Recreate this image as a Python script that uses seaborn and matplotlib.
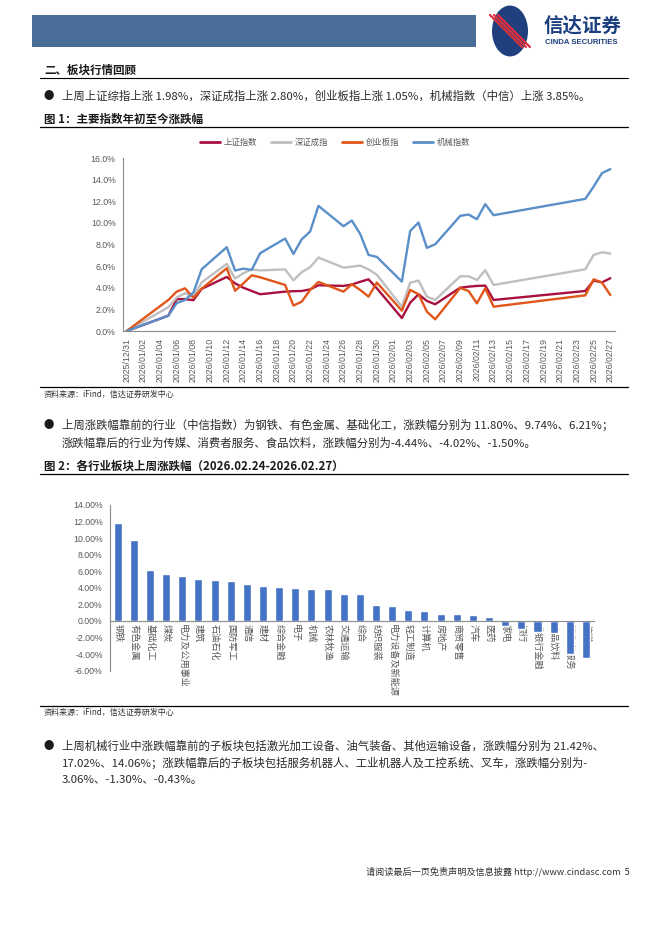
import matplotlib
matplotlib.use("Agg")
import matplotlib.pyplot as plt
import seaborn as sns
import pandas as pd
import numpy as np
from matplotlib.patches import Rectangle, Circle
from matplotlib.lines import Line2D
import matplotlib.dates as mdates
import matplotlib.ticker as mticker

# ---------------- data ----------------
trade_dates = ["2025-12-31",
               "2026-01-05", "2026-01-06", "2026-01-07", "2026-01-08", "2026-01-09",
               "2026-01-12", "2026-01-13", "2026-01-14", "2026-01-15", "2026-01-16",
               "2026-01-19", "2026-01-20", "2026-01-21", "2026-01-22", "2026-01-23",
               "2026-01-26", "2026-01-27", "2026-01-28", "2026-01-29", "2026-01-30",
               "2026-02-02", "2026-02-03", "2026-02-04", "2026-02-05", "2026-02-06",
               "2026-02-09", "2026-02-10", "2026-02-11", "2026-02-12", "2026-02-13",
               "2026-02-24", "2026-02-25", "2026-02-26", "2026-02-27"]
sh_index = [0, 1.42, 2.95, 2.95, 2.85, 3.90, 5.00, 4.41, 4.00, 3.70, 3.40,
            3.64, 3.68, 3.70, 3.85, 4.23, 4.17, 4.30, 4.55, 4.78, 3.95,
            1.20, 2.62, 3.40, 2.78, 2.47, 4.01, 4.10, 4.17, 4.20, 2.87,
            3.70, 4.66, 4.50, 4.88]
sz_index = [0, 2.20, 3.10, 3.50, 3.15, 4.50, 6.20, 4.85, 5.35, 5.70, 5.60,
            5.70, 4.68, 5.45, 5.90, 6.79, 5.86, 5.95, 6.05, 5.70, 5.20,
            2.25, 4.47, 4.66, 3.18, 2.87, 5.06, 5.06, 4.72, 5.62, 4.26,
            5.71, 7.04, 7.28, 7.16]
cyb_index = [0, 2.87, 3.64, 3.95, 3.07, 3.92, 5.80, 3.72, 4.41, 5.15, 4.97,
             4.26, 2.35, 2.72, 3.80, 4.54, 3.64, 4.32, 3.80, 3.18, 4.48,
             1.88, 3.80, 3.40, 1.79, 1.08, 3.98, 3.70, 2.56, 3.95, 2.25,
             3.30, 4.78, 4.48, 3.33]
jx_index = [0, 1.42, 2.58, 2.87, 3.55, 5.71, 7.75, 5.59, 5.77, 5.65, 7.19,
            8.55, 7.13, 8.49, 9.20, 11.57, 9.69, 10.22, 8.98, 7.04, 6.85,
            4.57, 9.26, 10.03, 7.69, 8.02, 10.65, 10.77, 10.34, 11.73, 10.71,
            12.22, 13.36, 14.60, 14.97]
series_names = ["上证指数", "深证成指", "创业板指", "机械指数"]
series_colors = ["#A8113E", "#BFBFBF", "#E0561B", "#5B8FC9"]

industries = ["钢铁", "有色金属", "基础化工", "煤炭", "电力及公用事业", "建筑", "石油石化",
              "国防军工", "通信", "建材", "综合金融", "电子", "机械", "农林牧渔", "交通运输",
              "综合", "纺织服装", "电力设备及新能源", "轻工制造", "计算机", "房地产", "商贸零售",
              "汽车", "医药", "家电", "银行", "非银行金融", "食品饮料", "消费者服务", "传媒"]
weekly_change = [11.80, 9.74, 6.21, 5.72, 5.47, 5.12, 4.99, 4.88, 4.52, 4.27, 4.15,
                 4.03, 3.85, 3.82, 3.30, 3.22, 1.97, 1.77, 1.27, 1.23, 0.88, 0.86,
                 0.68, 0.44, -0.56, -1.00, -1.37, -1.50, -4.02, -4.44]

# ---------------- page ----------------
sns.set_theme(style="white")
plt.rcParams["font.family"] = ["Noto Sans CJK SC", "DejaVu Sans"]
plt.rcParams["axes.unicode_minus"] = False

W, H = 662, 936
fig = plt.figure(figsize=(W / 100, H / 100), dpi=100)
fig.patch.set_facecolor("white")


def X(x):
    return x / W


def Y(y):
    return 1 - y / H


def ptext(x, y, s, size=8.3, weight="normal", color="#1a1a1a", **kw):
    fig.text(X(x), Y(y), s, fontsize=size, fontweight=weight, color=color,
             va="center", **kw)


def hline(x0, x1, y, lw=0.9, color="black"):
    fig.add_artist(Line2D([X(x0), X(x1)], [Y(y), Y(y)], transform=fig.transFigure,
                          lw=lw, color=color))


# header
fig.add_artist(Rectangle((X(32), Y(47)), X(476) - X(32), (47 - 15) / H,
                         transform=fig.transFigure, color="#4B6E98", lw=0))
fig.add_artist(Circle((X(510), Y(31)), 18 / W, transform=fig.transFigure,
                      color="#1F3F7F", lw=0))
for dx in (-4, 0, 4):
    fig.add_artist(Line2D([X(494 + dx), X(526 + dx)], [Y(15), Y(47)],
                          transform=fig.transFigure, lw=1.6, color="#E03040"))
ptext(544, 26, "信达证券", size=14, weight="bold", color="#1B3F7F")
ptext(545, 42, "CINDA SECURITIES", size=5.6, weight="bold", color="#1B3F7F",
      family=["Liberation Sans", "DejaVu Sans"])

# section heading
ptext(44, 70, "二、板块行情回顾", size=8.3, weight="bold")
hline(40, 628, 78, lw=0.8)
ptext(44, 96, "●", size=7.5)
ptext(62, 96, "上周上证综指上涨 1.98%，深证成指上涨 2.80%，创业板指上涨 1.05%，机械指数（中信）上涨 3.85%。",
      size=8.2, color="#2a2a2a")
ptext(44, 119, "图 1：主要指数年初至今涨跌幅", size=8.3, weight="bold")
hline(40, 628, 127, lw=0.9)

# ---------------- chart 1 ----------------
df1 = pd.DataFrame({
    "date": pd.to_datetime(trade_dates * 4),
    "value": sh_index + sz_index + cyb_index + jx_index,
    "series": np.repeat(series_names, len(trade_dates)),
})
ax1 = fig.add_axes([X(122.5), Y(331), X(614.5) - X(122.5), (331 - 158) / H])
sns.lineplot(data=df1, x="date", y="value", hue="series", hue_order=series_names,
             palette=dict(zip(series_names, series_colors)), linewidth=1.7,
             legend=False, ax=ax1)
ax1.set_xlim(pd.Timestamp("2025-12-30 12:00"), pd.Timestamp("2026-02-27 12:00"))
ax1.set_ylim(0, 16)
ax1.set_yticks(np.arange(0, 17, 2))
ax1.yaxis.set_major_formatter(mticker.FuncFormatter(lambda v, p: f"{v:.1f}%"))
ax1.set_xticks(pd.date_range("2025-12-31", "2026-02-27", freq="2D"))
ax1.xaxis.set_major_formatter(mdates.DateFormatter("%Y/%m/%d"))
ax1.tick_params(axis="x", rotation=90, labelsize=6.3, colors="#595959",
                length=3, width=0.6, color="#8C8C8C", pad=2)
ax1.tick_params(axis="y", labelsize=6.3, colors="#595959", length=3, width=0.6,
                color="#8C8C8C", pad=2)
for lab in ax1.get_xticklabels() + ax1.get_yticklabels():
    lab.set_fontfamily(["Liberation Sans", "DejaVu Sans"])
ax1.set_xlabel("")
ax1.set_ylabel("")
for s in ("top", "right"):
    ax1.spines[s].set_visible(False)
for s in ("left", "bottom"):
    ax1.spines[s].set_color("#8C8C8C")
    ax1.spines[s].set_linewidth(0.8)
ax1.set_facecolor("white")

handles = [Line2D([], [], color=c, lw=2) for c in series_colors]
fig.legend(handles, series_names, loc="center", bbox_to_anchor=(X(335), Y(142)),
           ncol=4, frameon=False, fontsize=6, handlelength=2.4, columnspacing=1.6,
           handletextpad=0.5, labelcolor="#595959")

hline(40, 628, 387, lw=0.9)
ptext(44, 394, "资料来源：iFind，信达证券研发中心", size=5.8, color="#333333")

# bullet 2
ptext(44, 425, "●", size=7.5)
ptext(62, 425, "上周涨跌幅靠前的行业（中信指数）为钢铁、有色金属、基础化工，涨跌幅分别为 11.80%、9.74%、6.21%；",
      size=8.2, color="#2a2a2a")
ptext(62, 443, "涨跌幅靠后的行业为传媒、消费者服务、食品饮料，涨跌幅分别为-4.44%、-4.02%、-1.50%。",
      size=8.2, color="#2a2a2a")
ptext(44, 466, "图 2：各行业板块上周涨跌幅（2026.02.24-2026.02.27）", size=8.3, weight="bold")
hline(40, 628, 474, lw=0.9)

# ---------------- chart 2 ----------------
df2 = pd.DataFrame({"industry": industries, "change": weekly_change})
ax2 = fig.add_axes([X(109.6), Y(670.7), X(594) - X(109.6), (670.7 - 505) / H])
sns.barplot(data=df2, x="industry", y="change", order=industries, color="#4472C4",
            saturation=1, width=0.5, ax=ax2)
ax2.set_axisbelow(True)
ax2.set_xlim(-0.5, len(industries) - 0.5)
ax2.set_ylim(-6, 14)
ax2.set_yticks(np.arange(-6, 15, 2))
ax2.yaxis.set_major_formatter(mticker.FuncFormatter(lambda v, p: f"{v:.2f}%"))
ax2.spines["bottom"].set_position(("data", 0))
ax2.tick_params(axis="x", rotation=270, labelsize=6.6, colors="#595959", length=0, pad=2)
ax2.set_xticks(np.arange(-0.5, len(industries), 1.0), minor=True)
ax2.tick_params(axis="x", which="minor", length=3, width=0.6, color="#8C8C8C",
                direction="inout")
ax2.tick_params(axis="y", labelsize=6.3, colors="#595959", length=3, width=0.6,
                color="#8C8C8C", pad=2)
for lab in ax2.get_yticklabels():
    lab.set_fontfamily(["Liberation Sans", "DejaVu Sans"])
ax2.set_xlabel("")
ax2.set_ylabel("")
for s in ("top", "right"):
    ax2.spines[s].set_visible(False)
for s in ("left", "bottom"):
    ax2.spines[s].set_color("#8C8C8C")
    ax2.spines[s].set_linewidth(0.8)
ax2.set_facecolor("none")

hline(40, 628, 706, lw=0.9)
ptext(44, 712, "资料来源：iFind，信达证券研发中心", size=5.8, color="#333333")

# bullet 3
ptext(44, 746, "●", size=7.5)
ptext(62, 746, "上周机械行业中涨跌幅靠前的子板块包括激光加工设备、油气装备、其他运输设备，涨跌幅分别为 21.42%、",
      size=8.2, color="#2a2a2a")
ptext(62, 763, "17.02%、14.06%；涨跌幅靠后的子板块包括服务机器人、工业机器人及工控系统、叉车，涨跌幅分别为-",
      size=8.2, color="#2a2a2a")
ptext(62, 780, "3.06%、-1.30%、-0.43%。", size=8.2, color="#2a2a2a")

# footer
ptext(630, 872, "请阅读最后一页免责声明及信息披露 http://www.cindasc.com  5", size=6.6,
      color="#333333", ha="right")

fig.savefig("out.png", dpi=100, facecolor="white")
